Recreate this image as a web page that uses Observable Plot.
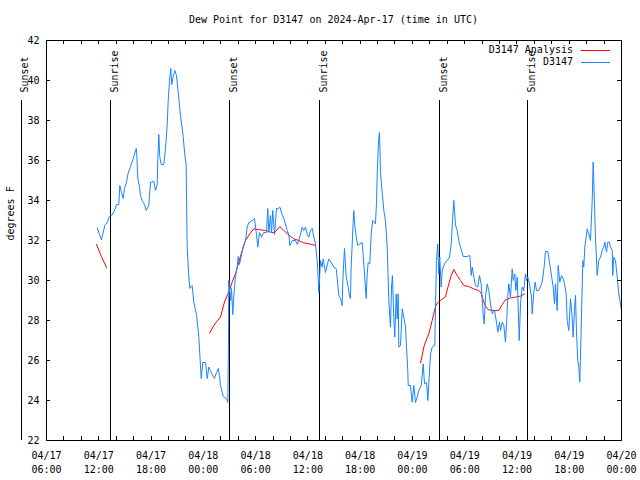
<!DOCTYPE html>
<html><head><meta charset="utf-8">
<script src="https://cdn.jsdelivr.net/npm/d3@7"></script>
<script src="https://cdn.jsdelivr.net/npm/@observablehq/plot@0.6"></script>
<style>
html,body{margin:0;padding:0;background:#fff;overflow:hidden}
#title{font:10px "DejaVu Sans Mono",monospace;height:30px;box-sizing:border-box;padding:14px 19px 0 46px;line-height:12px;text-align:center;color:#000;white-space:pre}
</style></head><body>
<div id="title"></div>
<div id="chart"></div>
<script>
const TITLE = "Dew Point for D3147 on 2024-Apr-17 (time in UTC)";
const Y_LABEL = "degrees F";
const START = "2024-04-17T06:00:00Z";
const END = "2024-04-20T00:00:00Z";

// [hours since START, dew point °F]
const observed = [[5.82,32.63],[6.31,32.03],[6.69,32.75],[6.97,32.9],[7.23,33.2],[7.54,33.28],[7.92,33.6],[8.03,33.8],[8.30,33.8],[8.41,34.75],[8.61,34.4],[8.80,34.1],[8.95,34.6],[9.18,34.9],[9.33,35.3],[9.64,35.7],[9.95,36.1],[10.30,36.6],[10.36,36.3],[10.48,35.1],[10.67,34.7],[10.79,34.25],[10.98,34.0],[11.25,33.8],[11.44,33.5],[11.74,33.75],[11.94,34.9],[12.32,34.97],[12.51,34.5],[12.71,34.8],[12.78,36.1],[12.89,37.3],[13.00,36.2],[13.17,35.8],[13.46,35.8],[13.66,36.6],[13.85,37.75],[13.97,39.0],[14.12,40.0],[14.27,40.6],[14.38,39.8],[14.54,40.2],[14.73,40.5],[14.92,40.25],[15.12,39.4],[15.38,38.25],[15.69,37.2],[15.87,36.3],[16.03,35.8],[16.07,34.3],[16.15,31.67],[16.33,30.2],[16.45,29.6],[16.72,29.75],[16.91,28.9],[17.22,28.3],[17.48,27.2],[17.60,26.3],[17.76,25.1],[17.94,25.9],[18.25,25.9],[18.45,25.1],[18.63,25.67],[18.82,25.5],[19.02,25.3],[19.28,25.1],[19.51,25.4],[19.71,25.6],[19.86,25.25],[19.97,24.75],[20.17,24.4],[20.28,24.2],[20.66,24.1],[20.81,23.9],[20.89,27.0],[20.92,30.0],[21.12,29.0],[21.23,29.6],[21.38,28.3],[21.50,29.2],[21.69,30.2],[21.89,30.7],[22.00,31.2],[22.15,30.8],[22.35,31.2],[22.58,31.7],[22.84,32.0],[23.04,32.67],[23.22,32.9],[23.61,33.0],[23.87,33.1],[24.10,32.3],[24.25,31.67],[24.45,32.4],[24.68,32.17],[24.94,32.4],[25.25,32.4],[25.40,33.6],[25.52,32.4],[25.71,33.25],[25.83,32.4],[25.97,33.5],[26.17,32.3],[26.40,33.6],[26.59,33.6],[26.78,33.67],[27.05,33.3],[27.24,33.1],[27.63,32.5],[27.81,32.3],[27.93,31.75],[28.20,32.0],[28.58,32.0],[28.78,31.8],[28.96,32.0],[29.15,32.3],[29.35,32.67],[29.53,32.5],[29.73,32.67],[29.92,32.3],[30.11,32.17],[30.30,32.5],[30.50,32.6],[30.68,32.17],[30.88,31.83],[31.07,31.0],[31.14,30.5],[31.26,29.4],[31.45,31.0],[31.64,30.67],[31.76,31.08],[32.02,30.4],[32.40,31.08],[32.79,30.83],[32.98,30.67],[33.25,30.6],[33.37,30.1],[33.55,29.25],[33.75,29.1],[33.94,28.75],[34.01,30.0],[34.20,31.6],[34.40,30.2],[34.63,29.67],[34.78,29.2],[34.89,29.1],[34.97,30.67],[35.09,31.83],[35.20,32.9],[35.27,33.5],[35.39,32.75],[35.55,32.17],[35.73,31.75],[35.96,31.83],[36.24,31.9],[36.35,31.25],[36.50,30.33],[36.69,29.1],[36.81,30.33],[36.92,30.9],[37.11,30.83],[37.27,32.33],[37.45,33.0],[37.65,32.9],[37.76,32.83],[37.88,33.9],[37.96,35.33],[38.11,37.0],[38.22,37.4],[38.34,35.4],[38.53,34.4],[38.72,33.5],[38.91,33.0],[39.11,31.67],[39.29,29.0],[39.48,27.67],[39.60,29.67],[39.71,30.25],[39.86,28.17],[39.98,27.17],[40.14,29.33],[40.25,28.08],[40.37,29.33],[40.44,26.67],[40.63,26.75],[40.83,28.58],[41.01,28.17],[41.21,27.67],[41.32,26.67],[41.47,25.5],[41.52,24.75],[41.78,24.75],[41.97,23.92],[42.16,24.75],[42.35,23.9],[42.55,24.17],[42.73,24.5],[43.01,24.75],[43.24,25.83],[43.39,24.83],[43.62,24.9],[43.77,24.0],[43.88,24.83],[44.08,26.33],[44.27,26.67],[44.57,26.75],[44.65,28.67],[44.76,31.0],[44.91,31.83],[45.03,30.33],[45.14,31.17],[45.30,29.67],[45.42,30.5],[45.60,30.75],[45.80,30.9],[45.99,31.0],[46.26,31.17],[46.45,31.83],[46.64,33.25],[46.75,34.0],[46.95,32.75],[47.14,32.5],[47.32,32.0],[47.52,31.67],[47.83,31.2],[48.29,31.2],[48.59,31.25],[48.75,30.25],[48.86,30.67],[49.05,30.17],[49.24,29.75],[49.50,29.67],[49.70,30.25],[49.89,29.83],[50.12,28.33],[50.24,27.83],[50.39,29.17],[50.58,29.83],[50.77,29.5],[50.96,28.83],[51.16,28.33],[51.42,28.5],[51.65,27.92],[51.80,27.42],[52.00,27.92],[52.11,27.5],[52.31,27.92],[52.49,27.75],[52.68,26.92],[52.80,27.83],[52.95,29.17],[53.06,29.83],[53.26,29.17],[53.45,30.58],[53.57,30.0],[53.75,30.33],[53.87,29.5],[54.03,30.17],[54.14,28.67],[54.26,27.0],[54.41,28.83],[54.60,29.67],[54.78,29.5],[54.98,30.33],[55.09,30.0],[55.24,30.17],[55.44,29.83],[55.67,29.17],[55.75,28.33],[55.93,29.42],[56.09,29.92],[56.24,29.5],[56.51,29.5],[56.90,29.92],[57.16,30.83],[57.27,31.45],[57.54,31.45],[57.73,30.92],[57.93,30.33],[58.16,29.67],[58.31,28.83],[58.42,29.83],[58.62,28.5],[58.73,30.75],[58.92,29.92],[59.11,30.25],[59.31,30.08],[59.46,29.83],[59.65,29.33],[59.77,28.0],[59.95,27.5],[60.14,29.08],[60.34,28.17],[60.45,27.17],[60.60,28.5],[60.72,29.25],[60.83,27.5],[60.98,26.0],[61.10,25.67],[61.21,24.92],[61.29,26.08],[61.41,28.33],[61.56,31.0],[61.67,30.67],[61.79,31.67],[61.95,32.17],[62.06,32.58],[62.25,32.33],[62.44,32.0],[62.64,34.0],[62.75,35.92],[62.90,33.83],[63.01,32.17],[63.13,31.08],[63.21,30.25],[63.39,31.0],[63.59,31.17],[63.78,31.5],[63.97,31.67],[64.08,31.92],[64.28,31.42],[64.43,31.92],[64.62,31.92],[64.74,31.67],[64.93,31.5],[65.00,30.25],[65.11,31.17],[65.31,31.0],[65.51,30.17],[65.69,29.33],[65.88,28.83],[66.0,28.5]];

// analysis series; null values mark gaps
const analysis = [[5.74,31.8],[6.30,31.2],[6.89,30.65],[12,null],
[18.74,27.38],[19.20,27.75],[19.59,27.97],[19.97,28.17],[20.17,28.5],[20.43,28.92],[20.74,29.25],[21.00,29.5],[21.31,29.92],[21.69,30.33],[22.07,30.92],[22.46,31.5],[22.84,32.0],[23.33,32.33],[23.79,32.58],[24.56,32.53],[25.14,32.5],[25.71,32.42],[26.17,32.38],[26.78,32.7],[27.24,32.5],[27.81,32.28],[28.39,32.08],[28.96,32.0],[29.53,31.88],[30.30,31.82],[30.88,31.75],[36,null],
[42.93,25.88],[43.12,26.25],[43.31,26.67],[43.50,26.92],[43.70,27.13],[43.88,27.33],[44.08,27.67],[44.27,28.0],[44.45,28.33],[44.65,28.7],[44.91,28.9],[45.22,29.0],[45.80,29.2],[46.18,29.83],[46.45,30.25],[46.75,30.55],[47.14,30.25],[47.52,30.0],[47.90,29.75],[48.47,29.7],[49.05,29.58],[49.62,29.5],[49.89,29.37],[50.19,28.92],[50.50,28.63],[50.77,28.53],[51.42,28.5],[51.91,28.5],[52.31,28.8],[52.68,29.03],[53.26,29.13],[53.83,29.17],[54.41,29.22],[54.86,29.33]];

const sunHours = [-2.90, 7.38, 21.04, 31.37, 45.14, 55.24];
const sunLabels = ["Sunset","Sunrise","Sunset","Sunrise","Sunset","Sunrise"];
const yTicks = [22,24,26,28,30,32,34,36,38,40,42];
const xTickHours = [0,6,12,18,24,30,36,42,48,54,60,66];
const xTickLabels = ["04/17\n06:00","04/17\n12:00","04/17\n18:00","04/18\n00:00","04/18\n06:00","04/18\n12:00","04/18\n18:00","04/19\n00:00","04/19\n06:00","04/19\n12:00","04/19\n18:00","04/20\n00:00"];
const seriesNames = ["D3147 Analysis", "D3147"];
const seriesColors = ["#ff0000", "#1a84ff"];

const t0 = new Date(START).getTime();
const toDate = h => new Date(t0 + h * 3600000);
const xTickDates = xTickHours.map(toDate);
const xMinorDates = d3.utcHour.every(2).range(new Date(START), new Date(new Date(END).getTime() + 1));
const sunIdx = sunHours.map((_, i) => i);
const FONT = '"DejaVu Sans Mono", monospace';

document.getElementById("title").textContent = TITLE;

const W = 640, H = 450, ML = 46, MR = 19, MT = 10, MB = 40;
const PW = W - ML - MR, PH = H - MT - MB;

const legend = (index, scales, values, dims) => {
  const g = d3.create("svg:g").attr("font-family", FONT).attr("font-size", 10);
  const right = dims.width - dims.marginRight;
  seriesNames.forEach((name, i) => {
    const cy = dims.marginTop + 10 + i * 12;
    g.append("text").attr("x", right - 48).attr("y", cy).attr("dy", "0.32em")
      .attr("text-anchor", "end").attr("fill", "black").text(name);
    g.append("line").attr("x1", right - 40).attr("x2", right - 11)
      .attr("y1", cy + 0.5).attr("y2", cy + 0.5).attr("stroke", seriesColors[i]).attr("stroke-width", 1);
  });
  return g.node();
};

const chart = Plot.plot({
  width: W, height: H,
  marginLeft: ML, marginRight: MR, marginTop: MT, marginBottom: MB,
  style: {fontFamily: FONT, fontSize: "10px", background: "white", color: "black", overflow: "visible"},
  x: {type: "utc", domain: [new Date(START), new Date(END)]},
  y: {domain: [22, 42]},
  marks: [
    Plot.ruleX(sunIdx, {x: i => toDate(sunHours[i]), insetTop: 60, stroke: "black", shapeRendering: "crispEdges"}),
    Plot.text(sunIdx, {x: i => toDate(sunHours[i]), text: i => sunLabels[i], frameAnchor: "top", dy: 52, rotate: -90, textAnchor: "start", fill: "black"}),
    Plot.line(analysis, {x: d => toDate(d[0]), y: d => d[1], stroke: seriesColors[0], strokeWidth: 1}),
    Plot.line(observed, {x: d => toDate(d[0]), y: d => d[1], stroke: seriesColors[1], strokeWidth: 1}),
    Plot.ruleX(xMinorDates, {x: d => d, insetTop: PH - 4, stroke: "black", shapeRendering: "crispEdges"}),
    Plot.ruleX(xMinorDates, {x: d => d, insetBottom: PH - 4, stroke: "black", shapeRendering: "crispEdges"}),
    Plot.ruleY(yTicks, {y: d => d, insetRight: PW - 4, stroke: "black", shapeRendering: "crispEdges"}),
    Plot.ruleY(yTicks, {y: d => d, insetLeft: PW - 4, stroke: "black", shapeRendering: "crispEdges"}),
    Plot.axisY({ticks: yTicks, tickSize: 0, tickPadding: 7, label: null, fill: "black"}),
    Plot.axisX({ticks: xTickDates, tickSize: 0, tickPadding: 9, lineHeight: 1.4, label: null, fill: "black",
      tickFormat: d => xTickLabels[xTickDates.findIndex(t => +t === +d)]}),
    Plot.text([Y_LABEL], {text: d => d, frameAnchor: "left", dx: -36, rotate: -90, fill: "black"}),
    Plot.frame({stroke: "black", shapeRendering: "crispEdges"}),
    legend
  ]
});
document.getElementById("chart").appendChild(chart);
</script>
</body></html>
